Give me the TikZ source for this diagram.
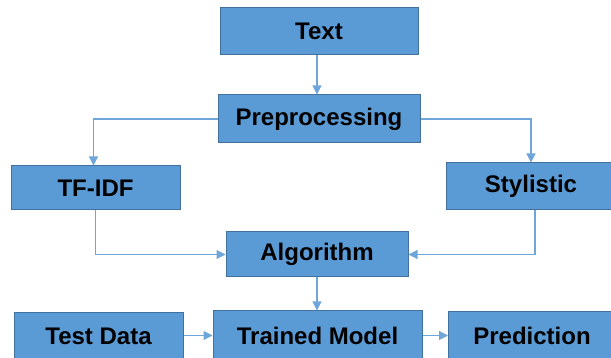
\documentclass[tikz,border=0pt]{standalone}
\usepackage{fontspec}
\setmainfont{Liberation Sans}
\usetikzlibrary{arrows.meta}
\definecolor{boxfill}{HTML}{5B9BD5}
\definecolor{boxdraw}{HTML}{41719C}
\definecolor{linecol}{HTML}{6FA6DA}
\tikzset{
  blk/.style={draw=boxdraw, line width=1pt, fill=boxfill, inner sep=0pt,
    font=\fontsize{24}{27}\selectfont\bfseries, text=black},
  conn/.style={draw=linecol, line width=1.1pt, -{Triangle[width=9pt,length=9pt]}}
}
\begin{document}
\begin{tikzpicture}[x=1pt,y=-1pt]
\useasboundingbox (0,0) rectangle (611,358);
\node[blk, minimum width=198pt, minimum height=47pt] (text) at (319,31.5) {Text};
\node[blk, minimum width=202pt, minimum height=48pt] (pre) at (319,119) {Preprocessing};
\node[blk, minimum width=169pt, minimum height=44pt] (tfidf) at (95.5,188) {TF-IDF};
\node[blk, minimum width=170pt, minimum height=47pt] (sty) at (531,186.5) {Stylistic};
\node[blk, minimum width=182pt, minimum height=45pt] (algo) at (317,254.5) {Algorithm};
\node[blk, minimum width=169pt, minimum height=47pt] (test) at (98.5,336.5) {Test Data};
\node[blk, minimum width=209pt, minimum height=49pt] (model) at (317.5,335.5) {Trained Model};
\node[blk, minimum width=167pt, minimum height=48pt] (pred) at (532,336) {Prediction};
\draw[conn] ([xshift=-2pt]text.south) -- ([xshift=-2pt]pre.north);
\draw[conn] (pre.west) -| ([xshift=-2pt]tfidf.north);
\draw[conn] (pre.east) -| (sty.north);
\draw[conn] (tfidf.south) |- (algo.west);
\draw[conn] ([xshift=4pt]sty.south) |- (algo.east);
\draw[conn] (algo.south) -- (algo.south |- model.north);
\draw[conn] (test.east |- model.west) -- (model.west);
\draw[conn] (model.east) -- (model.east -| pred.west);
\end{tikzpicture}
\end{document}
